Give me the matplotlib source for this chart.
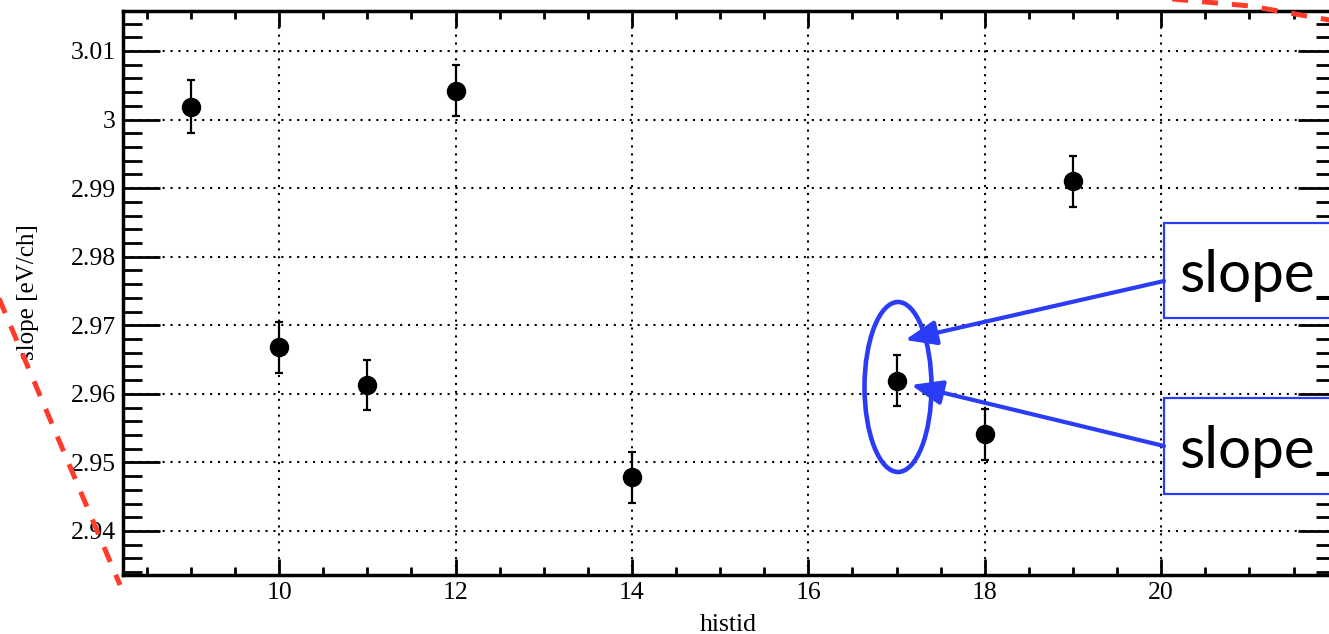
import matplotlib
matplotlib.use('Agg')
import matplotlib.pyplot as plt
from matplotlib.ticker import MultipleLocator, FuncFormatter
from matplotlib.patches import Rectangle, Ellipse, FancyArrowPatch

# data
histid = [9, 10, 11, 12, 14, 17, 18, 19]
slope = [3.0019, 2.9668, 2.9613, 3.0042, 2.9478, 2.9619, 2.9541, 2.9910]
slope_err = [0.0038, 0.0037, 0.0037, 0.0037, 0.0037, 0.0037, 0.0037, 0.0037]

box_labels = ['slope_', 'slope_']

W, H = 1329, 634
fig = plt.figure(figsize=(W / 100, H / 100), dpi=100)
serif = 'Liberation Serif'

# main axes (right edge sits just outside the cropped image)
ax = fig.add_axes([123 / W, 1 - 575 / H, (1335 - 123) / W, (575 - 11) / H])
ax.set_xlim(8.23, 21.97)
ax.set_ylim(2.93358, 3.01583)

ax.errorbar(histid, slope, yerr=slope_err, fmt='o', color='black', ms=13,
            elinewidth=1.6, capsize=2.6, capthick=1.6, zorder=3)

ax.xaxis.set_major_locator(MultipleLocator(2))
ax.xaxis.set_minor_locator(MultipleLocator(0.5))
ax.yaxis.set_major_locator(MultipleLocator(0.01))
ax.yaxis.set_minor_locator(MultipleLocator(0.002))
ax.yaxis.set_major_formatter(FuncFormatter(lambda v, p: '{:g}'.format(round(v, 4))))

ax.grid(True, which='major', color='black', linestyle=(0, (1, 2.8)), linewidth=1.5)
ax.set_axisbelow(True)

ax.tick_params(axis='both', which='both', direction='in', top=True, right=True, width=2)
ax.tick_params(axis='y', which='major', length=26.5, pad=5)
ax.tick_params(axis='y', which='minor', length=13.5)
ax.tick_params(axis='x', which='major', length=11.5, pad=5)
ax.tick_params(axis='x', which='minor', length=5.8)
for lab in ax.get_xticklabels() + ax.get_yticklabels():
    lab.set_fontfamily(serif)
    lab.set_fontsize(18.5)
for sp in ax.spines.values():
    sp.set_linewidth(2.5)

fig.text(728 / W, 1 - 631 / H, 'histid', family=serif, fontsize=18.5,
         ha='center', va='baseline')
fig.text(28 / W, 1 - 292 / H, 'slope [eV/ch]', family=serif, fontsize=18,
         rotation=90, ha='center', va='center')

# overlay drawn in pixel coordinates
ov = fig.add_axes([0, 0, 1, 1], zorder=10)
ov.set_xlim(0, W)
ov.set_ylim(H, 0)
ov.axis('off')
ov.patch.set_alpha(0)

red = '#ff3b2b'
blue = '#2b3cf6'
ov.plot([-2, 120], [296, 585], color=red, lw=3.6, linestyle=(0, (3.2, 2.8)),
        solid_capstyle='butt')
ov.plot([1150, 1250, 1335], [-3, 6, 21], color=red, lw=3.6, linestyle=(0, (3.2, 2.8)))

ov.add_patch(Ellipse((898, 387), 67, 170, fill=False, edgecolor=blue, lw=3.3))

for y0, h, yb, txt in [(223, 95, 292, box_labels[0]), (398, 96, 468, box_labels[1])]:
    ov.add_patch(Rectangle((1164, y0), 300, h, facecolor='white', edgecolor=blue, lw=1.6))
    ov.text(1179, yb, txt, family='Lato', fontsize=42, ha='left', va='baseline',
            color='black')

for start, tip in [((1164, 281), (905, 340)), ((1164, 446), (911, 385))]:
    ov.add_patch(FancyArrowPatch(start, tip, arrowstyle='-|>,head_length=1.9,head_width=0.75',
                                 mutation_scale=10, color=blue, lw=3.0,
                                 shrinkA=0, shrinkB=0))

fig.savefig('out.png', dpi=100)
